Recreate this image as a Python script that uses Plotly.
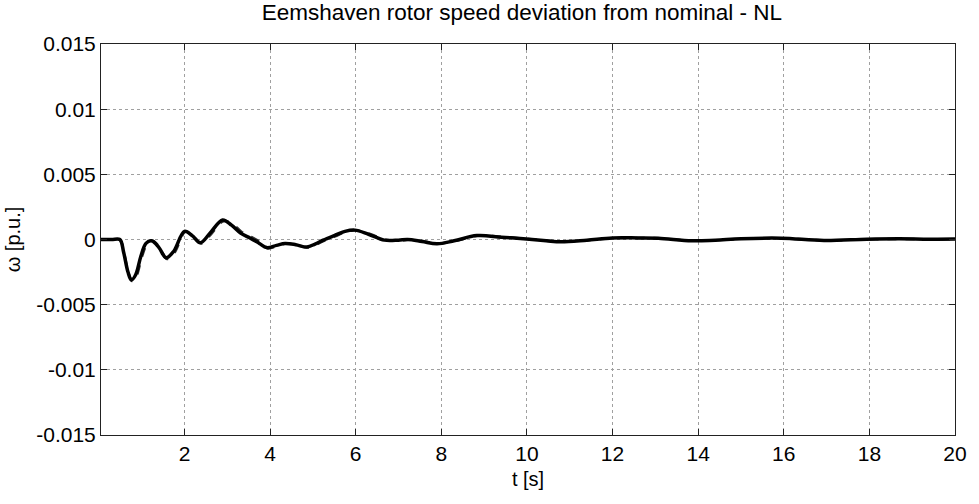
import plotly.graph_objects as go

# Solid trace (time in s, deviation in p.u.)
t_main = [0.05, 0.30, 0.49, 0.58, 0.68, 0.76, 0.86, 0.98, 1.10, 1.23, 1.40, 1.57, 1.75, 2.00, 2.18, 2.37, 2.60, 2.89, 3.10, 3.31, 3.54, 3.75, 3.92, 4.15, 4.35, 4.60, 4.86, 5.05, 5.24, 5.50, 5.75, 5.98, 6.30, 6.67, 7.00, 7.21, 7.55, 7.90, 8.30, 8.83, 9.40, 9.99, 10.45, 10.80, 11.40, 12.00, 12.60, 13.07, 13.85, 14.40, 15.00, 15.94, 16.94, 17.94, 18.70, 19.40, 20.00]
w_main = [0.0, 0.0, 0.0, -0.0010, -0.0025, -0.0031, -0.0027, -0.0013, -0.0003, -0.0001, -0.0006, -0.0014, -0.0009, 0.00062, 0.0003, -0.00025, 0.0005, 0.0015, 0.0011, 0.0005, 0.0001, -0.0003, -0.00062, -0.00045, -0.0003, -0.0004, -0.00058, -0.00035, -0.00005, 0.0003, 0.00062, 0.00072, 0.0004, -0.00005, -0.00005, 0.0, -0.00015, -0.00033, -0.0001, 0.0003, 0.00018, 0.00003, -0.0001, -0.00018, -0.00005, 0.00012, 0.00012, 0.0001, -0.0001, -0.00005, 0.00006, 0.0001, -0.00008, 0.00002, 0.00005, 0.00002, 0.00003]

# Dashed trace (second simulation)
t_dash = [0.05, 0.30, 0.49, 0.58, 0.68, 0.78, 0.88, 1.00, 1.12, 1.25, 1.42, 1.59, 1.77, 2.02, 2.20, 2.39, 2.62, 2.91, 3.12, 3.33, 3.56, 3.77, 3.94, 4.17, 4.37, 4.62, 4.88, 5.07, 5.26, 5.52, 5.77, 6.00, 6.32, 6.69, 7.02, 7.23, 7.57, 7.92, 8.32, 8.85, 9.42, 10.01, 10.47, 10.82, 11.42, 12.02, 12.62, 13.09, 13.87, 14.42, 15.02, 15.96, 16.96, 17.96, 18.72, 19.42, 20.00]
w_dash = [0.0, 0.0, 0.0, -0.0009, -0.0024, -0.0032, -0.0028, -0.0014, -0.0004, -0.0001, -0.0006, -0.0015, -0.0010, 0.00058, 0.0003, -0.0003, 0.0004, 0.0014, 0.0012, 0.0006, 0.0002, -0.0002, -0.00068, -0.0005, -0.0003, -0.0004, -0.00062, -0.0004, -0.0001, 0.00025, 0.00058, 0.0007, 0.00045, 0.0, -0.0001, -0.00002, -0.00012, -0.0003, -0.00012, 0.00028, 0.0002, 0.00005, -0.00008, -0.00016, -0.00006, 0.0001, 0.00012, 0.00009, -0.00009, -0.00006, 0.00005, 0.00009, -0.00007, 0.00001, 0.00004, 0.00002, 0.00002]

x_ticks = [2, 4, 6, 8, 10, 12, 14, 16, 18, 20]
y_ticks = [0.015, 0.01, 0.005, 0, -0.005, -0.01, -0.015]
y_labels = ["0.015", "0.01", "0.005", "0", "-0.005", "-0.01", "-0.015"]

font_family = "Arial, Liberation Sans, sans-serif"

fig = go.Figure()
fig.add_trace(go.Scatter(x=t_dash, y=w_dash, mode="lines",
                         line=dict(color="#333333", width=2.5, dash="dash", shape="spline", smoothing=1.0),
                         showlegend=False, hoverinfo="skip"))
fig.add_trace(go.Scatter(x=t_main, y=w_main, mode="lines",
                         line=dict(color="black", width=3.5, shape="spline", smoothing=1.0),
                         showlegend=False))

axis_common = dict(
    showline=True, linecolor="#222222", linewidth=1, mirror="ticks",
    ticks="inside", ticklen=6, tickcolor="#222222",
    showgrid=True, gridcolor="#a0a0a0", gridwidth=1, griddash="dot",
    zeroline=False,
    tickfont=dict(family=font_family, size=21, color="black"),
)

fig.update_xaxes(range=[0.05, 20], tickvals=x_ticks, ticktext=[str(v) for v in x_ticks],
                 title=dict(text="t [s]", font=dict(family=font_family, size=20, color="black"), standoff=7),
                 **axis_common)
fig.update_yaxes(range=[-0.015, 0.015], tickvals=y_ticks, ticktext=y_labels,
                 title=dict(text="ω [p.u.]", font=dict(family=font_family, size=20, color="black"), standoff=10),
                 **axis_common)

fig.update_layout(
    width=979, height=504,
    margin=dict(l=101, r=17, t=44, b=69),
    paper_bgcolor="white", plot_bgcolor="white",
    title=dict(text="Eemshaven rotor speed deviation from nominal - NL",
               font=dict(family=font_family, size=22.5, color="black"),
               x=0.533, xanchor="center", y=0.992, yanchor="top"),
)

fig.write_html("out.html")
